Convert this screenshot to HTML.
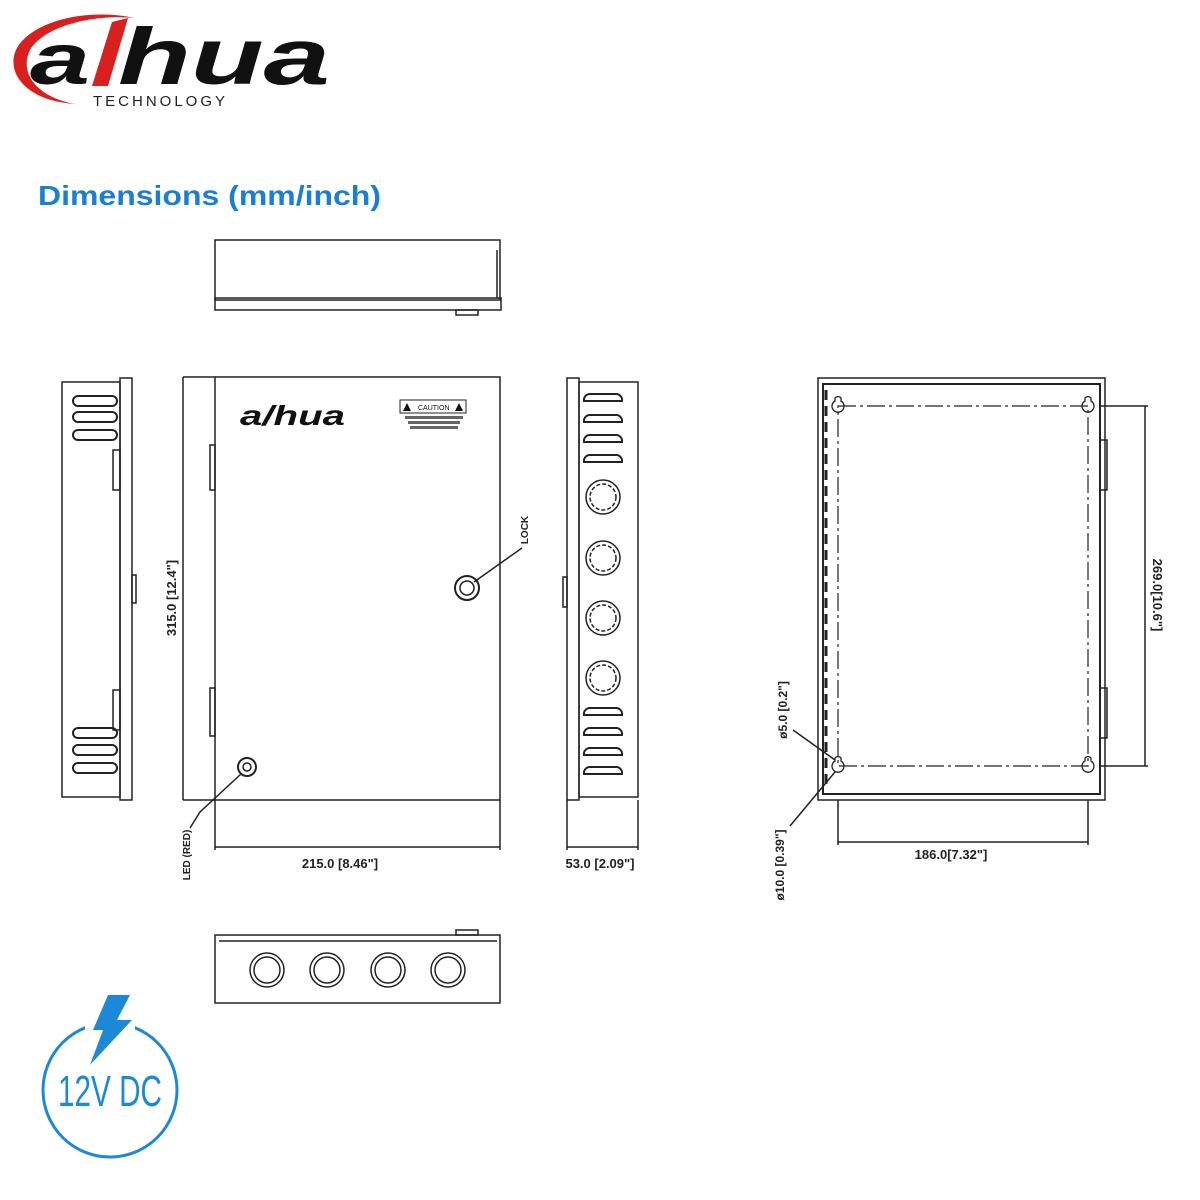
<!DOCTYPE html>
<html><head><meta charset="utf-8"><style>
html,body{margin:0;padding:0;background:#fff;}
svg{display:block}
text{font-family:"Liberation Sans",sans-serif;}
</style></head><body>
<svg width="1200" height="1200" viewBox="0 0 1200 1200" xmlns="http://www.w3.org/2000/svg">
<!-- logo -->
<path d="M75 104 C15 100 0 60 25 38 C 50 15 100 10 135 18 C 95 14 45 25 30 50 C 18 75 40 98 75 104 Z" fill="#d8201e"/>
<text x="30" y="84" font-size="72" font-weight="bold" font-style="italic" fill="#111" textLength="60" lengthAdjust="spacingAndGlyphs">a</text>
<path d="M92 86 L112 22 L128 18 L108 86 Z" fill="#d8201e"/>
<text x="118" y="84" font-size="80" font-weight="bold" font-style="italic" fill="#111" textLength="212" lengthAdjust="spacingAndGlyphs">hua</text>
<text x="93" y="106" font-size="15" fill="#222" textLength="132">TECHNOLOGY</text>
<text x="38" y="205" font-size="28" font-weight="bold" fill="#1a7fd4" textLength="343" lengthAdjust="spacingAndGlyphs">Dimensions (mm/inch)</text>

<g fill="none" stroke="#222" stroke-width="1.5">
<!-- top view -->
<rect x="215" y="240" width="285" height="60"/>
<rect x="215" y="298" width="286" height="12"/>
<line x1="497" y1="250" x2="497" y2="298"/>
<rect x="456" y="310" width="22" height="5"/>
<!-- left side view -->
<rect x="62" y="382" width="58" height="415"/>
<rect x="120" y="378" width="12" height="422"/>
<g stroke-width="2">
<path d="M78 396 h34 a5 5 0 0 1 0 10 h-34 a5 5 0 0 1 0-10Z"/>
<path d="M78 412 h34 a5 5 0 0 1 0 10 h-34 a5 5 0 0 1 0-10Z"/>
<path d="M78 430 h34 a5 5 0 0 1 0 10 h-34 a5 5 0 0 1 0-10Z"/>
<path d="M78 728 h34 a5 5 0 0 1 0 10 h-34 a5 5 0 0 1 0-10Z"/>
<path d="M78 745 h34 a5 5 0 0 1 0 10 h-34 a5 5 0 0 1 0-10Z"/>
<path d="M78 763 h34 a5 5 0 0 1 0 10 h-34 a5 5 0 0 1 0-10Z"/>
</g>
<rect x="113" y="450" width="7" height="40"/><rect x="113" y="690" width="7" height="40"/>
<rect x="132" y="575" width="4" height="28"/>
<!-- front -->
<rect x="215" y="377" width="285" height="423"/>
<rect x="210" y="445" width="5" height="45"/><rect x="210" y="688" width="5" height="48"/>
<line x1="183" y1="377" x2="183" y2="800"/>
<line x1="183" y1="377" x2="215" y2="377"/><line x1="183" y1="800" x2="215" y2="800"/>
<circle cx="467" cy="588" r="12" stroke-width="2"/><circle cx="467" cy="588" r="7"/>
<path d="M474 582 L505 560 L522 548"/>
<circle cx="247" cy="767" r="9" stroke-width="2"/><circle cx="247" cy="767" r="4"/>
<path d="M241 774 L200 812 L190 828"/>
<line x1="215" y1="800" x2="215" y2="850"/><line x1="500" y1="800" x2="500" y2="850"/>
<line x1="215" y1="847" x2="500" y2="847"/>
<!-- right side -->
<rect x="567" y="378" width="12" height="422"/>
<rect x="579" y="382" width="59" height="415"/>
<rect x="563" y="577" width="4" height="30"/>
<g stroke-width="2">
<path d="M590 394 h26 a6 6 0 0 1 6 7 h-38 a6 6 0 0 1 6-7Z"/>
<path d="M590 415 h26 a6 6 0 0 1 6 7 h-38 a6 6 0 0 1 6-7Z"/>
<path d="M590 435 h26 a6 6 0 0 1 6 7 h-38 a6 6 0 0 1 6-7Z"/>
<path d="M590 455 h26 a6 6 0 0 1 6 7 h-38 a6 6 0 0 1 6-7Z"/>
<path d="M590 708 h26 a6 6 0 0 1 6 7 h-38 a6 6 0 0 1 6-7Z"/>
<path d="M590 728 h26 a6 6 0 0 1 6 7 h-38 a6 6 0 0 1 6-7Z"/>
<path d="M590 748 h26 a6 6 0 0 1 6 7 h-38 a6 6 0 0 1 6-7Z"/>
<path d="M590 767 h26 a6 6 0 0 1 6 7 h-38 a6 6 0 0 1 6-7Z"/>
</g>
<g stroke-width="1.5">
<circle cx="603" cy="497" r="17"/><circle cx="603" cy="497" r="13" stroke-dasharray="4 2"/>
<circle cx="603" cy="558" r="17"/><circle cx="603" cy="558" r="13" stroke-dasharray="4 2"/>
<circle cx="603" cy="618" r="17"/><circle cx="603" cy="618" r="13" stroke-dasharray="4 2"/>
<circle cx="603" cy="678" r="17"/><circle cx="603" cy="678" r="13" stroke-dasharray="4 2"/>
</g>
<line x1="567" y1="800" x2="567" y2="850"/><line x1="638" y1="800" x2="638" y2="850"/>
<line x1="567" y1="847" x2="638" y2="847"/>
<!-- rear -->
<rect x="818" y="378" width="287" height="422"/>
<rect x="823" y="384" width="277" height="410" stroke-width="2"/>
<rect x="1100" y="440" width="7" height="50"/><rect x="1100" y="688" width="7" height="50"/>
<line x1="826" y1="390" x2="826" y2="790" stroke-width="3" stroke-dasharray="10 6"/>
<path d="M838 406 H1088 V766 H838 Z" stroke-width="1.2" stroke-dasharray="18 4 3 4"/>
<g stroke-width="1.3">
<path d="M835 398 a4 4 0 0 1 6 0 v3 a6 6 0 1 1 -6 0 Z"/>
<path d="M1085 398 a4 4 0 0 1 6 0 v3 a6 6 0 1 1 -6 0 Z"/>
<path d="M835 758 a4 4 0 0 1 6 0 v3 a6 6 0 1 1 -6 0 Z"/>
<path d="M1085 758 a4 4 0 0 1 6 0 v3 a6 6 0 1 1 -6 0 Z"/>
</g>
<line x1="1100" y1="406" x2="1148" y2="406"/><line x1="1100" y1="766" x2="1148" y2="766"/>
<line x1="1145" y1="406" x2="1145" y2="766"/>
<line x1="838" y1="800" x2="838" y2="845"/><line x1="1088" y1="800" x2="1088" y2="845"/>
<line x1="838" y1="842" x2="1088" y2="842"/>
<path d="M793 730 L835 760"/><path d="M790 826 L835 772"/>
<!-- bottom view -->
<rect x="215" y="935" width="285" height="68"/>
<line x1="219" y1="941" x2="497" y2="941"/>
<rect x="456" y="930" width="22" height="5"/>
<circle cx="267" cy="970" r="17"/><circle cx="267" cy="970" r="13"/>
<circle cx="327" cy="970" r="17"/><circle cx="327" cy="970" r="13"/>
<circle cx="388" cy="970" r="17"/><circle cx="388" cy="970" r="13"/>
<circle cx="448" cy="970" r="17"/><circle cx="448" cy="970" r="13"/>
</g>
<!-- front logo & caution -->
<text x="240" y="425" font-size="28" font-weight="bold" font-style="italic" fill="#111" textLength="105" lengthAdjust="spacingAndGlyphs">a/hua</text>
<rect x="400" y="400" width="66" height="13" fill="none" stroke="#222"/>
<text x="418" y="410" font-size="7" fill="#111">CAUTION</text>
<path d="M403 411 l4 -8 l4 8Z M455 411 l4 -8 l4 8Z" fill="#111"/>
<rect x="405" y="416" width="58" height="3" fill="#666"/><rect x="408" y="421" width="52" height="3" fill="#666"/><rect x="410" y="426" width="48" height="3" fill="#666"/>
<!-- labels -->
<g font-size="13" font-weight="bold" fill="#222">
<text transform="translate(176 598) rotate(-90)" text-anchor="middle">315.0 [12.4"]</text>
<text transform="translate(528 530) rotate(-90)" text-anchor="middle" font-size="10">LOCK</text>
<text transform="translate(190 855) rotate(-90)" text-anchor="middle" font-size="10">LED (RED)</text>
<text x="340" y="868" text-anchor="middle">215.0 [8.46"]</text>
<text x="600" y="868" text-anchor="middle">53.0 [2.09"]</text>
<text x="951" y="859" text-anchor="middle">186.0[7.32"]</text>
<text transform="translate(1153 595) rotate(90)" text-anchor="middle">269.0[10.6"]</text>
<text transform="translate(787 710) rotate(-90)" text-anchor="middle" font-size="12">ø5.0 [0.2"]</text>
<text transform="translate(784 865) rotate(-90)" text-anchor="middle" font-size="12">ø10.0 [0.39"]</text>
</g>
<!-- 12V DC -->
<circle cx="110" cy="1090" r="67" fill="none" stroke="#1e88d8" stroke-width="3"/>
<rect x="85" y="1010" width="50" height="40" fill="#fff"/>
<path d="M108 995 L130 995 L117 1020 L132 1020 L90 1065 L103 1030 L93 1030 Z" fill="#1e88d8"/>
<text x="58" y="1106" font-size="44" fill="#1e88d8" textLength="104" lengthAdjust="spacingAndGlyphs">12V DC</text>
</svg>
</body></html>
